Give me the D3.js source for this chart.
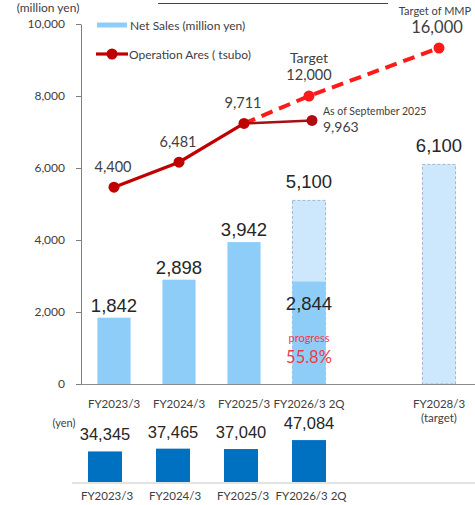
<!DOCTYPE html>
<html><head><meta charset="utf-8">
<script src="https://cdn.jsdelivr.net/npm/d3@7/dist/d3.min.js"></script>
<style>body{margin:0;background:#fff}svg{display:block}</style>
</head><body>
<svg id="c" width="475" height="505"></svg>
<script>
// ---------- data ----------
const categories = ["FY2023/3","FY2024/3","FY2025/3","FY2026/3 2Q","FY2028/3"];
const netSales = [1842, 2898, 3942, 2844, null];
const salesTarget = [null, null, null, 5100, 6100];
const areaCats = ["FY2023/3","FY2024/3","FY2025/3"];
const areaValues = [4400, 6481, 9711];
const areaLatestCat = "FY2026/3 2Q";
const areaLatestValue = 9963;
const targetCats = ["FY2025/3","FY2026/3 2Q","FY2028/3"];
const targetValues = [9711, 12000, 16000];
const yTicks = [0, 2000, 4000, 6000, 8000, 10000];
const perCats = ["FY2023/3","FY2024/3","FY2025/3","FY2026/3 2Q"];
const perValues = [34345, 37465, 37040, 47084];
const progressText = "55.8%";

// ---------- setup ----------
const svg = d3.select("#c");
const fmt = d3.format(",");
const small = "Lato, 'Open Sans', sans-serif";
const big = "'Liberation Sans', Arial, sans-serif";

const slots = [...categories.slice(0,4), "__gap", categories[4]];
const x = d3.scaleBand().domain(slots).range([81.5, 471.5]).paddingInner(0.49).paddingOuter(0.245);
const cx = c => x(c) + x.bandwidth()/2;
const y = d3.scaleLinear().domain([0, 10000]).range([384, 24]);
const y2 = d3.scaleLinear().domain([-12000, 18000]).range([384, 24]);

// title underline (cut-off header)
svg.append("line").attr("x1",158).attr("x2",388).attr("y1",3.5).attr("y2",3.5)
  .attr("stroke","#444").attr("stroke-width",1);

// y axis
const yAxis = svg.append("g").attr("transform","translate(81,0)")
  .call(d3.axisLeft(y).tickValues(yTicks).tickFormat(fmt).tickSize(5).tickSizeOuter(0).tickPadding(11));
yAxis.select(".domain").attr("stroke","#7f7f7f");
yAxis.selectAll(".tick line").attr("stroke","#7f7f7f");
yAxis.selectAll("text").attr("font-family",small).attr("font-size",12).attr("fill","#404040");

svg.append("text").attr("x",48).attr("y",12).attr("text-anchor","middle")
  .attr("font-family",small).attr("font-size",12).attr("fill","#404040").text("(million yen)");

// target bars
const tIdx = categories.map((c,i)=>i).filter(i=>salesTarget[i]!=null);
svg.selectAll(".tbar").data(tIdx).join("rect")
  .attr("x", i=>x(categories[i])).attr("width", x.bandwidth())
  .attr("y", i=>y(salesTarget[i])).attr("height", i=>y(0)-y(salesTarget[i]))
  .attr("fill","#cde7fc").attr("stroke","#9fb6cc").attr("stroke-width",1).attr("stroke-dasharray","3,2");

// actual bars
const aIdx = categories.map((c,i)=>i).filter(i=>netSales[i]!=null);
svg.selectAll(".abar").data(aIdx).join("rect")
  .attr("x", i=>x(categories[i])).attr("width", x.bandwidth())
  .attr("y", i=>y(netSales[i])).attr("height", i=>y(0)-y(netSales[i]))
  .attr("fill","#8fcdf9");

// x axis line
svg.append("line").attr("x1",81).attr("x2",475).attr("y1",y(0)+0.5).attr("y2",y(0)+0.5)
  .attr("stroke","#8c8c8c").attr("stroke-width",1.2);

// bar labels
svg.selectAll(".alab").data(aIdx).join("text")
  .attr("x", i=>cx(categories[i]))
  .attr("y", i=> salesTarget[i]!=null ? y(netSales[i])+28 : y(netSales[i])-6)
  .attr("text-anchor","middle").attr("font-family",big).attr("font-size",18.5).attr("fill","#262626")
  .text(i=>fmt(netSales[i]));
svg.selectAll(".tlab").data(tIdx).join("text")
  .attr("x", i=>cx(categories[i])).attr("y", i=>y(salesTarget[i])-12)
  .attr("text-anchor","middle").attr("font-family",big).attr("font-size",18.5).attr("fill","#262626")
  .text(i=>fmt(salesTarget[i]));

// progress
svg.append("text").attr("x",cx(categories[3])).attr("y",342).attr("text-anchor","middle")
  .attr("font-family",small).attr("font-size",11).attr("fill","#ee3b45").text("progress");
svg.append("text").attr("x",cx(categories[3])).attr("y",363).attr("text-anchor","middle")
  .attr("font-family",small).attr("font-size",16.5).attr("fill","#ee3b45").text(progressText);

// x labels
categories.forEach(c=>{
  svg.append("text").attr("x",cx(c)).attr("y",408).attr("text-anchor","middle")
    .attr("font-family",small).attr("font-size",11.5).attr("fill","#404040").text(c);
});
svg.append("text").attr("x",cx(categories[4])).attr("y",422).attr("text-anchor","middle")
  .attr("font-family",small).attr("font-size",11.5).attr("fill","#404040").text("(target)");

// dashed target line
const tPts = targetCats.map((c,i)=>[cx(c), y2(targetValues[i])]);
svg.append("path").attr("d", d3.line()(tPts)).attr("fill","none")
  .attr("stroke","#ff1a1a").attr("stroke-width",4).attr("stroke-dasharray","12,7");
svg.selectAll(".tdot").data(tPts.slice(1)).join("circle")
  .attr("cx",d=>d[0]).attr("cy",d=>d[1]).attr("r",5.5).attr("fill","#ff1a1a");

// actual line
const aPts = areaCats.map((c,i)=>[cx(c), y2(areaValues[i])]);
const lPt = [cx(areaLatestCat)+3, y2(areaLatestValue)];
svg.append("path").attr("d", d3.line()([aPts[aPts.length-1], lPt])).attr("fill","none")
  .attr("stroke","#a50f15").attr("stroke-width",2.5);
svg.append("circle").attr("cx",lPt[0]).attr("cy",lPt[1]).attr("r",5.5).attr("fill","#b00c12");
svg.append("path").attr("d", d3.line()(aPts)).attr("fill","none")
  .attr("stroke","#c00000").attr("stroke-width",3.2);
svg.selectAll(".adot").data(aPts).join("circle")
  .attr("cx",d=>d[0]).attr("cy",d=>d[1]).attr("r",5.5).attr("fill","#c00000");

// line labels
areaCats.forEach((c,i)=>{
  svg.append("text").attr("x",cx(c)-1).attr("y",y2(areaValues[i])-15).attr("text-anchor","middle")
    .attr("font-family",small).attr("font-size",14.5).attr("fill","#404040").text(fmt(areaValues[i]));
});
svg.append("text").attr("x",lPt[0]+11).attr("y",115).attr("font-family",small).attr("font-size",10.5)
  .attr("fill","#404040").text("As of September 2025");
svg.append("text").attr("x",lPt[0]+11).attr("y",132).attr("font-family",small).attr("font-size",14)
  .attr("fill","#404040").text(fmt(areaLatestValue));
svg.append("text").attr("x",cx(targetCats[1])).attr("y",63).attr("text-anchor","middle")
  .attr("font-family",small).attr("font-size",14).attr("fill","#404040").text("Target");
svg.append("text").attr("x",cx(targetCats[1])).attr("y",80).attr("text-anchor","middle")
  .attr("font-family",small).attr("font-size",14.5).attr("fill","#404040").text(fmt(targetValues[1]));
svg.append("text").attr("x",cx(targetCats[2])-4).attr("y",15).attr("text-anchor","middle")
  .attr("font-family",small).attr("font-size",11).attr("fill","#404040").text("Target of MMP");
svg.append("text").attr("x",cx(targetCats[2])-2).attr("y",33).attr("text-anchor","middle")
  .attr("font-family",small).attr("font-size",16.5).attr("fill","#404040").text(fmt(targetValues[2]));

// legend
svg.append("rect").attr("x",97).attr("y",22.5).attr("width",30).attr("height",5).attr("fill","#8fcdf9");
svg.append("text").attr("x",130).attr("y",29.5).attr("font-family",small).attr("font-size",12)
  .attr("fill","#404040").text("Net Sales (million yen)");
svg.append("line").attr("x1",96).attr("x2",128).attr("y1",54).attr("y2",54)
  .attr("stroke","#c00000").attr("stroke-width",3.2);
svg.append("circle").attr("cx",112).attr("cy",54).attr("r",5.5).attr("fill","#c00000");
svg.append("text").attr("x",129).attr("y",58.5).attr("font-family",small).attr("font-size",12)
  .attr("fill","#404040").text("Operation Ares ( tsubo)");

// ---------- bottom chart ----------
const xb = d3.scaleBand().domain(perCats).range([71, 343]).paddingInner(0.5).paddingOuter(0.25);
const yb = d3.scaleLinear().domain([0, 50000]).range([482, 437.5]);
svg.selectAll(".pbar").data(perValues).join("rect")
  .attr("x",(d,i)=>xb(perCats[i])).attr("width",xb.bandwidth())
  .attr("y",d=>yb(d)).attr("height",d=>yb(0)-yb(d)).attr("fill","#0070c0");
svg.append("line").attr("x1",72).attr("x2",475).attr("y1",483).attr("y2",483)
  .attr("stroke","#e3e3e3").attr("stroke-width",2);
svg.selectAll(".plab").data(perValues).join("text")
  .attr("x",(d,i)=>xb(perCats[i])+xb.bandwidth()/2).attr("y",d=>yb(d)-11)
  .attr("text-anchor","middle").attr("font-family",big).attr("font-size",16.5).attr("fill","#262626")
  .text(d=>fmt(d));
perCats.forEach(c=>{
  svg.append("text").attr("x",xb(c)+xb.bandwidth()/2+2).attr("y",500).attr("text-anchor","middle")
    .attr("font-family",small).attr("font-size",11.5).attr("fill","#404040").text(c);
});
svg.append("text").attr("x",64).attr("y",427).attr("text-anchor","middle")
  .attr("font-family",small).attr("font-size",11).attr("fill","#404040").text("(yen)");
</script>
</body></html>
